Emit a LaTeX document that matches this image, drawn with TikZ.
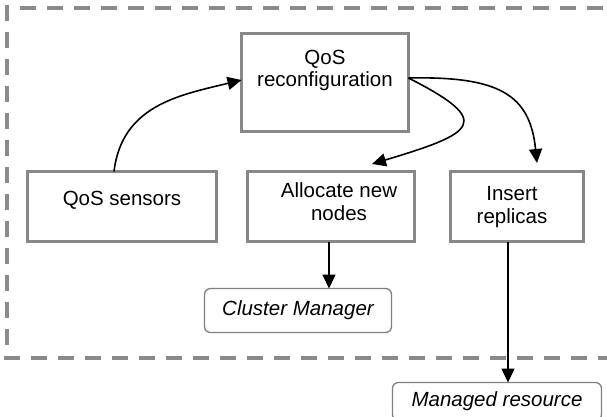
\documentclass[tikz,border=0pt]{standalone}
\usepackage{fontspec}
\setmainfont{Liberation Sans}
\usetikzlibrary{arrows.meta}
\definecolor{boxgray}{HTML}{888888}
\definecolor{dashgray}{HTML}{8A8A8A}
\definecolor{roundgray}{HTML}{808080}
\tikzset{
  x=1pt, y=-1pt,
  box/.style={draw=boxgray, line width=3pt, rectangle, inner sep=0pt, outer sep=0pt},
  rbox/.style={draw=roundgray, line width=1.3pt, rectangle, rounded corners=6pt, inner sep=0pt, outer sep=0pt},
  txt/.style={inner sep=0pt, outer sep=0pt, font=\fontsize{20.5}{23}\selectfont},
  itxt/.style={txt, font=\fontsize{20.5}{23}\selectfont\itshape},
  conn/.style={line width=1.6pt, black, -{Triangle[length=14pt,width=13pt]}},
  frame/.style={draw=dashgray, line width=3.3pt, dash pattern=on 16pt off 11pt}
}
\begin{document}
\begin{tikzpicture}
\useasboundingbox (0,0) rectangle (607,416);
% dashed frame (right side off the picture)
\coordinate (ftl) at (7,5);
\coordinate (fbl) at (7,358);
\coordinate (ftop) at (20,8);
\coordinate (ftr) at (640,8);
\coordinate (fbs) at (4,358);
\coordinate (fbr) at (640,358);
\draw[frame] (ftl) -- (fbl);
\draw[frame] (ftop) -- (ftr);
\draw[frame] (fbs) -- (fbr);
% boxes
\node[box, minimum width=167pt, minimum height=98pt] (reconf) at (325,82.5) {};
\node[box, minimum width=189pt, minimum height=70pt] (sensors) at (122,206.5) {};
\node[box, minimum width=167pt, minimum height=70pt] (alloc) at (331,206.5) {};
\node[box, minimum width=133pt, minimum height=70pt] (insert) at (517,206.5) {};
\node[rbox, minimum width=187pt, minimum height=44pt] (cluster) at (298,310.5) {};
\node[rbox, minimum width=209pt, minimum height=38pt] (managed) at (497,401.5) {};
% texts
\node[txt, anchor=base] (t1) at (325,64) {QoS};
\node[txt, anchor=base] (t2) at (325,86) {reconfiguration};
\node[txt, anchor=base] (t3) at (122,205) {QoS sensors};
\node[txt, anchor=base] (t4) at (339,197) {Allocate new};
\node[txt, anchor=base] (t5) at (339,220) {nodes};
\node[txt, anchor=base] (t6) at (512,200) {Insert};
\node[txt, anchor=base] (t7) at (512,223) {replicas};
\node[itxt, anchor=base] (t8) at (298,315) {Cluster Manager};
\node[itxt, anchor=base] (t9) at (497,406) {Managed resource};
% connector end points
\coordinate (sstart) at (sensors.north -| 114,0);
\coordinate (rin) at (reconf.west |- 0,80);
\coordinate (rout) at (reconf.east |- 0,78);
\coordinate (aend) at (372,164);
\coordinate (iend) at (537,163);
\coordinate (astart) at (alloc.south -| 329,0);
\coordinate (cend) at (cluster.north -| 329,0);
\coordinate (istart) at (insert.south -| 508,0);
\coordinate (mend) at (managed.north -| 508,0);
% connectors
\draw[conn] (sstart) .. controls (122,105) and (180,95) .. (rin);
\draw[conn] (rout) .. controls (495,122) and (475,133) .. (aend);
\draw[conn] (rout) .. controls (500,76) and (530,95) .. (iend);
\draw[conn] (astart) -- (cend);
\draw[conn] (istart) -- (mend);
\end{tikzpicture}
\end{document}
